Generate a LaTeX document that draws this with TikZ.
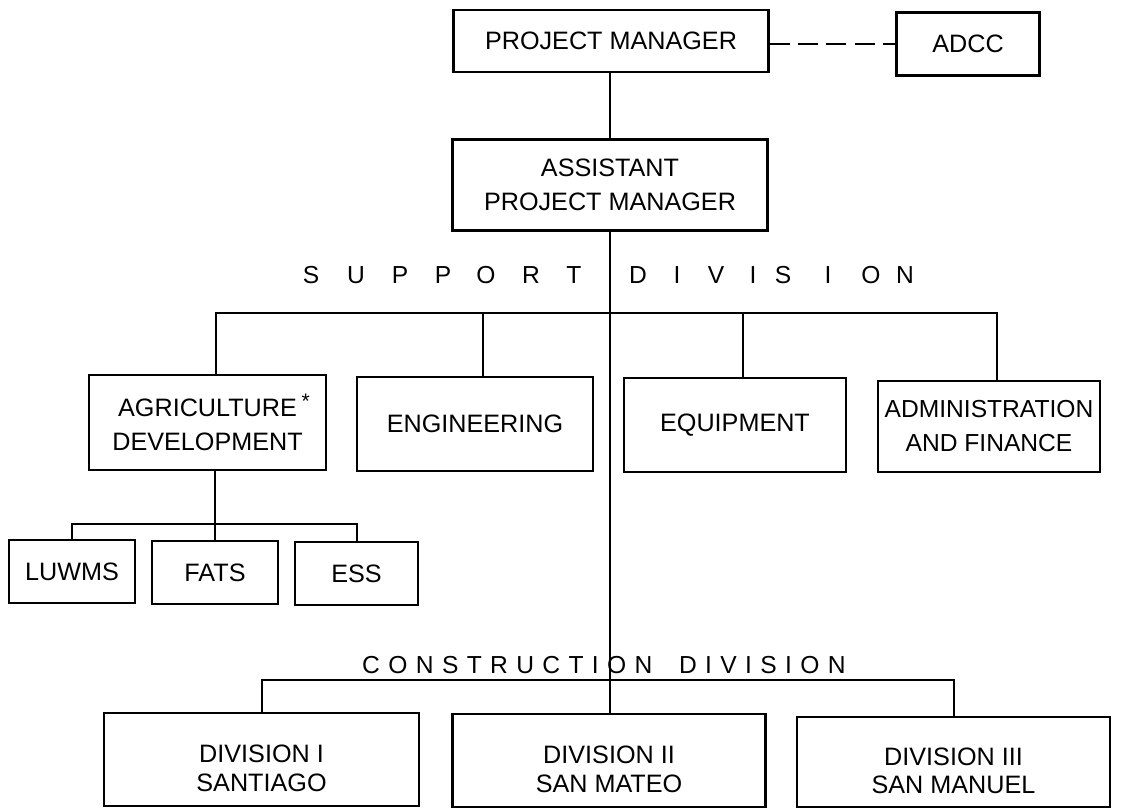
\documentclass[tikz,border=0pt]{standalone}
\usepackage{fontspec}
\setmainfont{Liberation Sans}
\begin{document}
\begin{tikzpicture}[x=0.03cm,y=-0.03cm,
  unit/.style={draw, line width=2.2pt, inner sep=0pt, align=center,
               font=\fontsize{21.5}{29}\selectfont},
  divunit/.style={unit, font=\fontsize{21.5}{24}\selectfont},
  link/.style={line width=2.2pt},
  spaced/.style={anchor=base, inner sep=0pt, font=\fontsize{21}{21}\selectfont}]
\useasboundingbox (0,0) rectangle (1133,809);

% top management
\node[unit, minimum width=9.45cm, minimum height=1.86cm] (pm)   at (611,41)  {PROJECT MANAGER};
\node[unit, minimum width=4.29cm, minimum height=1.89cm] (adcc) at (968,44)  {ADCC};
\node[unit, minimum width=9.45cm, minimum height=2.73cm] (apm)  at (610,185) {ASSISTANT\\PROJECT MANAGER};

% support division units
\node[unit, minimum width=7.11cm, minimum height=2.85cm] (agri)  at (207.5,422.5)
  {AGRICULTURE\rlap{\hspace{4pt}\raisebox{7pt}{\fontsize{18}{18}\selectfont *}}\\DEVELOPMENT};
\node[unit, minimum width=7.08cm, minimum height=2.82cm] (eng)   at (475,424)   {ENGINEERING};
\node[unit, minimum width=6.66cm, minimum height=2.82cm] (equip) at (735,425)   {EQUIPMENT};
\node[unit, minimum width=6.66cm, minimum height=2.73cm,
      font=\fontsize{21}{29}\selectfont] (admin) at (989,426.5) {ADMINISTRATION\\AND FINANCE};

% agriculture sections
\node[unit, minimum width=3.78cm, minimum height=1.89cm] (luwms) at (72,571.5)    {LUWMS};
\node[unit, minimum width=3.78cm, minimum height=1.89cm] (fats)  at (215,572.5)   {FATS};
\node[unit, minimum width=3.69cm, minimum height=1.89cm] (ess)   at (356.5,573.5) {ESS};

% construction divisions
\node[divunit, minimum width=9.45cm, minimum height=2.79cm] (div1) at (261.5,759.5)
  {\rule{0pt}{30pt}DIVISION I\\SANTIAGO};
\node[divunit, minimum width=9.39cm, minimum height=2.79cm] (div2) at (609,760.5)
  {\rule{0pt}{30pt}DIVISION II\\SAN MATEO};
\node[divunit, minimum width=9.39cm, minimum height=2.70cm] (div3) at (953.5,762)
  {\rule{0pt}{30pt}DIVISION III\\SAN MANUEL};

% spaced headings
\foreach \ch/\xx [count=\k] in {S/311,U/356,P/400,P/443,O/486,R/531,T/574}
  \node[spaced] (sup\k) at (\xx,283) {\ch};
\foreach \ch/\xx [count=\k] in {D/638,I/677,V/716,I/753,S/783,I/828,O/871,N/905}
  \node[spaced] (sdiv\k) at (\xx,283) {\ch};
\node[spaced, anchor=base west] (constr) at (362,673)
  {\addfontfeature{LetterSpace=34}CONSTRUCTION\hspace{0.8cm}DIVISION};

% bus points
\coordinate (sL) at (216,313);
\coordinate (sE) at (483,313);
\coordinate (sQ) at (743,313);
\coordinate (sR) at (997,313);
\coordinate (aL) at (72,524);
\coordinate (aM) at (215,524);
\coordinate (aR) at (357,524);
\coordinate (cL) at (262,680);
\coordinate (cR) at (954,680);

% connectors
\draw[link, dash pattern=on 0.6cm off 0.25cm] (pm.east |- adcc.west) -- (adcc.west);
\draw[link] (pm.south -| apm.north) -- (apm.north);
\draw[link] (apm.south) -- (apm.south |- div2.north);
\draw[link] (sL |- agri.north) -- (sL) -- (sR) -- (sR |- admin.north);
\draw[link] (sE) -- (sE |- eng.north);
\draw[link] (sQ) -- (sQ |- equip.north);
\draw[link] (aM |- agri.south) -- (aM |- fats.north);
\draw[link] (aL |- luwms.north) -- (aL) -- (aR) -- (aR |- ess.north);
\draw[link] (cL |- div1.north) -- (cL) -- (cR) -- (cR |- div3.north);
\end{tikzpicture}
\end{document}
